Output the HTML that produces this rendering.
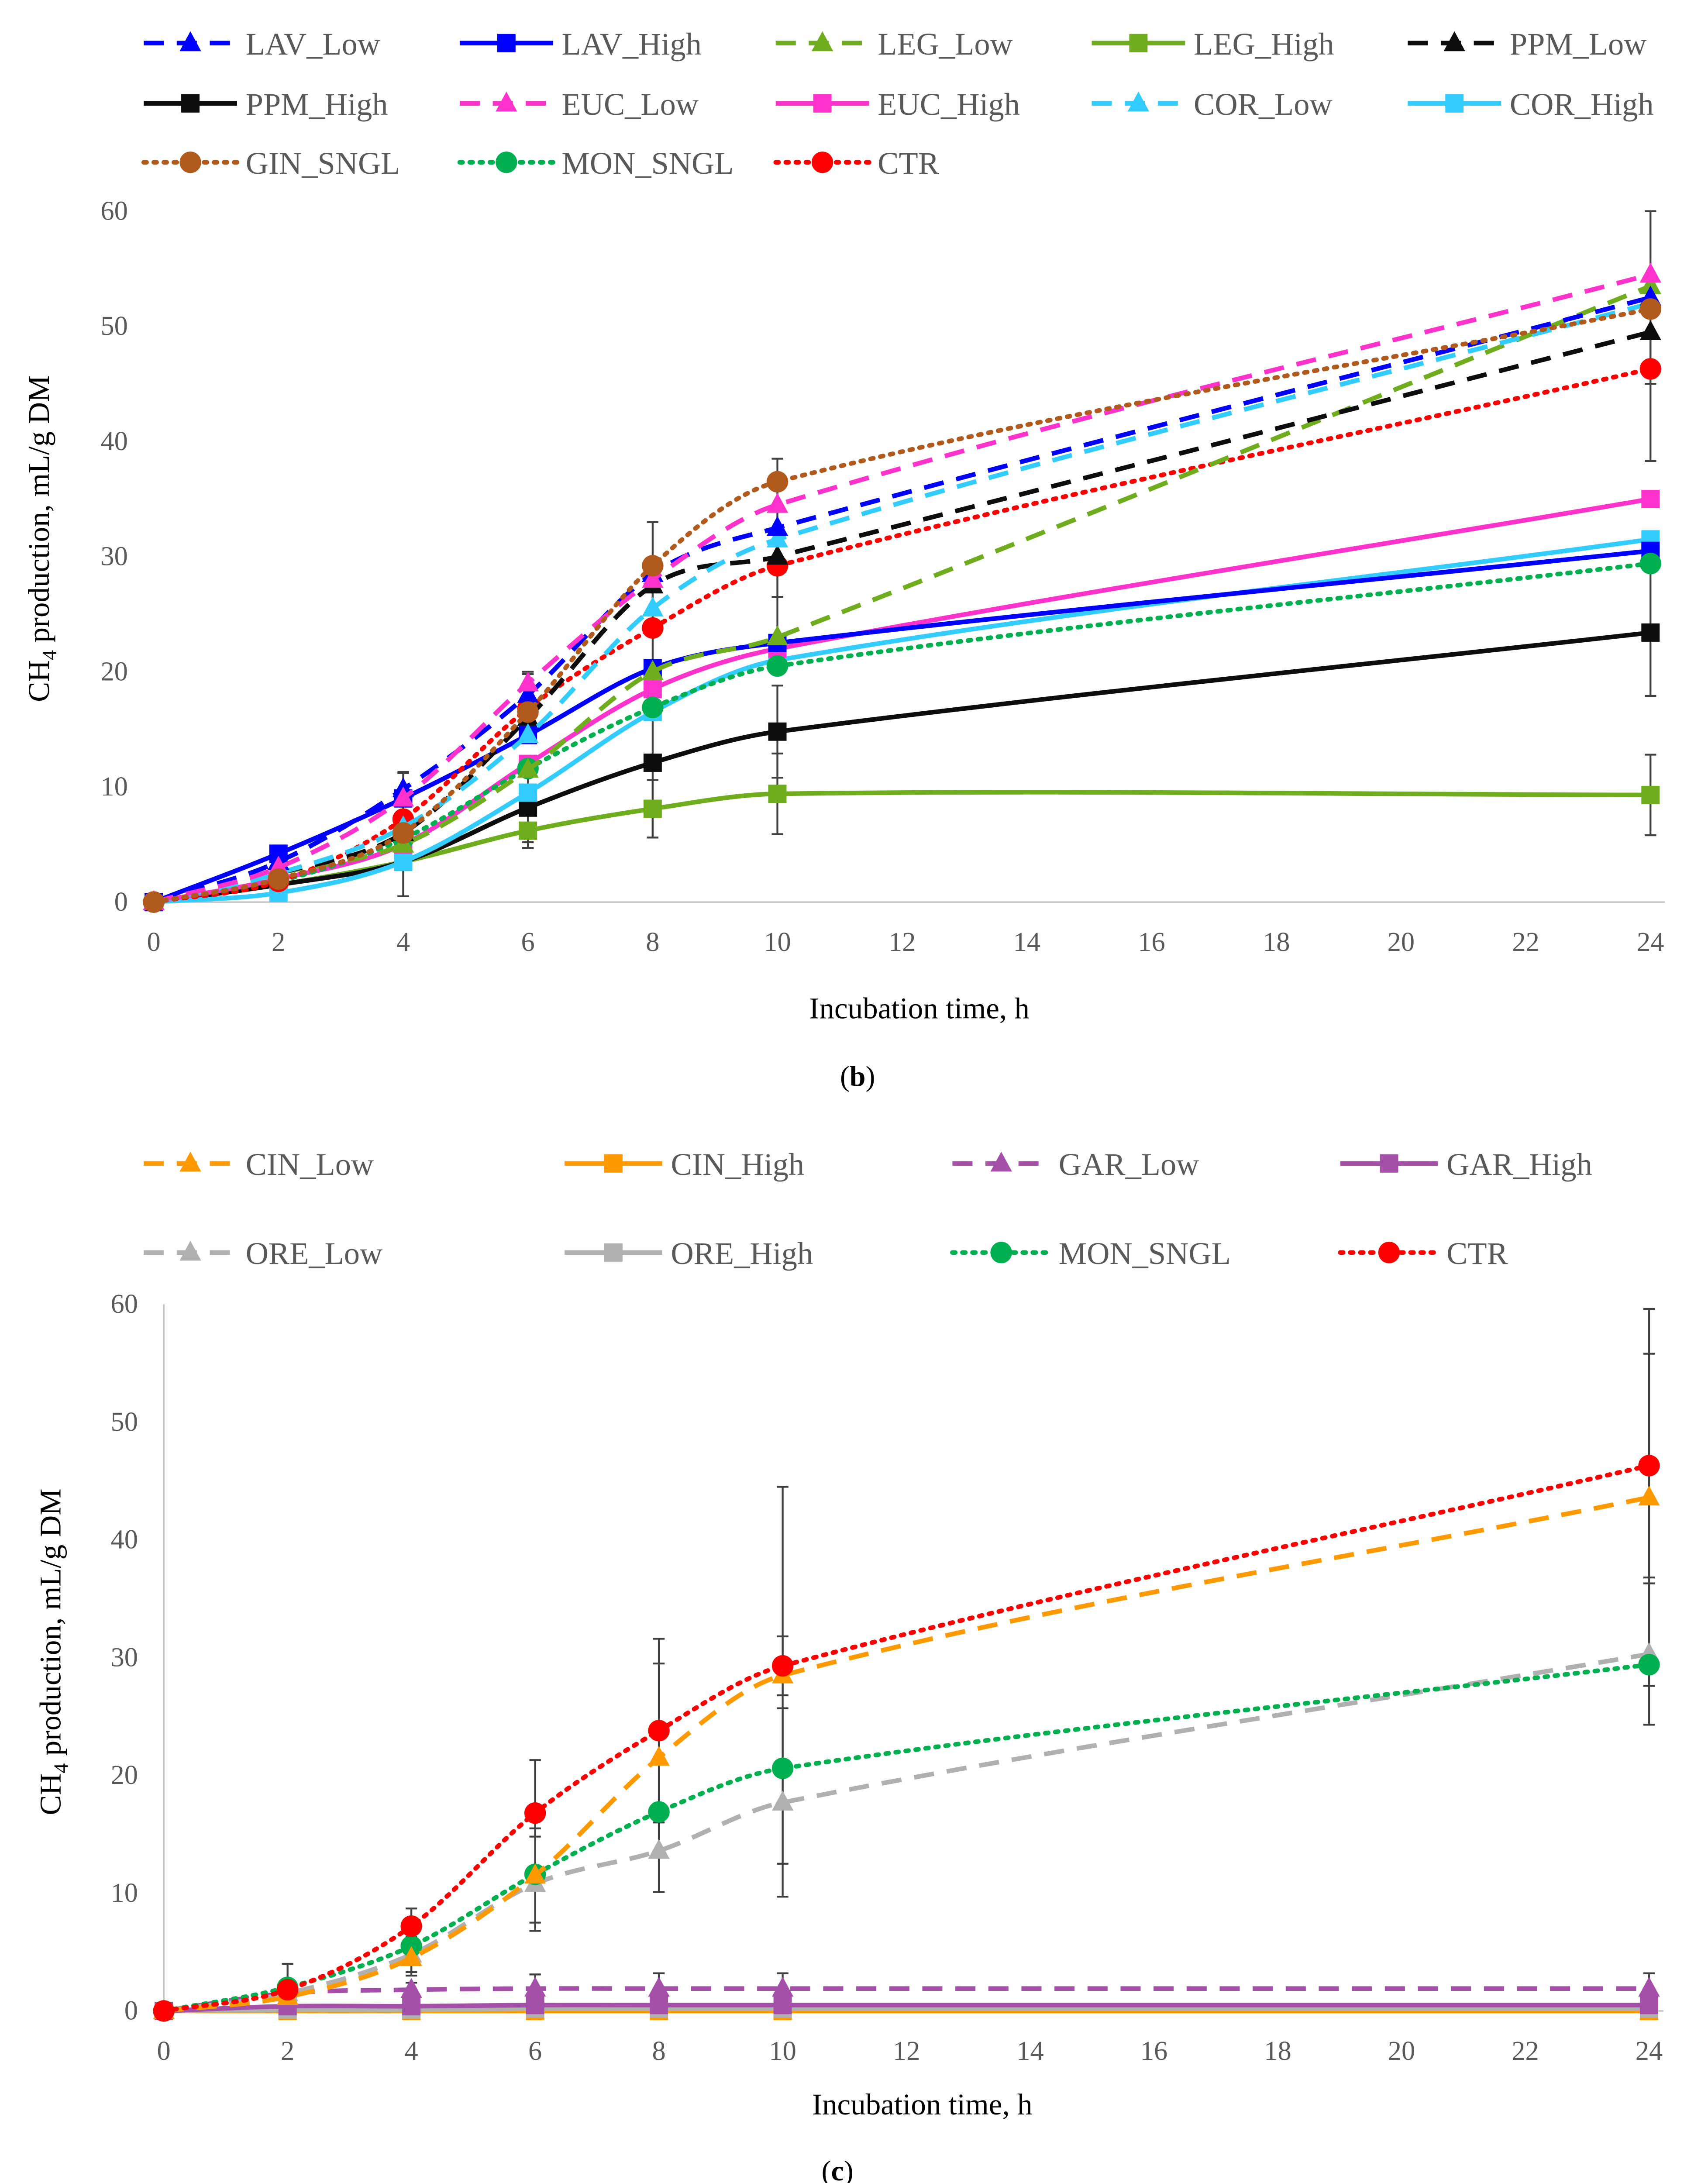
<!DOCTYPE html>
<html><head><meta charset="utf-8">
<style>
html,body{margin:0;padding:0;background:#fff;width:3912px;height:5157px;overflow:hidden;}
svg{display:block;position:absolute;left:0;top:0;font-family:"Liberation Serif",serif;}
</style></head>
<body>
<svg id="root" width="3912" height="5157" viewBox="0 0 1189 1567.5" xmlns="http://www.w3.org/2000/svg">
<rect x="0" y="0" width="1189" height="1568" fill="#fff"/>
</svg>
<script>
// ---------- data: panel (b) ----------
const hours = [0, 2, 4, 6, 8, 10, 24];
const xTicks = [0, 2, 4, 6, 8, 10, 12, 14, 16, 18, 20, 22, 24];
const yTicks = [0, 10, 20, 30, 40, 50, 60];

const lavLow  = [0, 3.5, 9.8, 18, 28.5, 32.5, 52.5];
const lavHigh = [0, 4.2, 9, 14.5, 20.3, 22.5, 30.5];
const legLow  = [0, 2.5, 5, 11.5, 20, 23, 53.5];
const legHigh = [0, 1.5, 3.5, 6.2, 8.1, 9.4, 9.3];
const ppmLow  = [0, 2.5, 6, 16, 27.5, 30, 49.5];
const ppmHigh = [0, 1.5, 3.5, 8.2, 12.1, 14.8, 23.4];
const eucLow  = [0, 3, 9, 19, 28, 34.5, 54.5];
const eucHigh = [0, 2, 5, 12, 18.5, 22, 35];
const corLow  = [0, 2.5, 6.5, 14.5, 25.5, 31.5, 52];
const corHigh = [0, 0.8, 3.5, 9.5, 16.5, 21, 31.5];
const ginSngl = [0, 2, 6, 16.5, 29.2, 36.5, 51.5];
const monSngl = [0, 1.8, 5.5, 11.6, 16.9, 20.5, 29.4];
const ctr     = [0, 1.8, 7.2, 16.8, 23.8, 29.2, 46.3];

const errB_lavLow = [0, 1, 1.5, 2, 4.5, 6, 7.5];
const errB_ppmHigh = [0, 0.5, 3, 3, 6.5, 4, 5.5];
const errB_legHigh = [0, 0.5, 3, 1.5, 2.5, 3.5, 3.5];
const errB_ctr = [0, 0.5, 4, 3, 5, 7, 8];

// ---------- data: panel (c) ----------
const cinLow  = [0, 1.2, 4.5, 11.5, 21.5, 28.5, 43.6];
const cinHigh = [0, 0, 0, 0, 0, 0, 0];
const garLow  = [0, 1.5, 1.8, 1.9, 1.9, 1.9, 1.9];
const garHigh = [0, 0.4, 0.4, 0.5, 0.5, 0.5, 0.5];
const oreLow  = [0, 1.5, 4.8, 10.8, 13.6, 17.7, 30.3];
const oreHigh = [0, 0.1, 0.1, 0.2, 0.2, 0.2, 0.2];
const monC    = [0, 2, 5.5, 11.6, 16.9, 20.6, 29.4];
const ctrC    = [0, 1.8, 7.2, 16.8, 23.8, 29.3, 46.3];

const errC_cinLow = [0, 1, 1.5, 4, 8, 16, 16];
const errC_ctr = [0, 2.2, 1.5, 4.5, 7.8, 2.5, 9.5];
const errC_ore = [0, 0.5, 1.5, 4, 3.5, 8, 6];
const errC_gar = [0, 0.4, 0.6, 1.2, 1.3, 1.3, 1.3];

const NS = "http://www.w3.org/2000/svg";
const root = document.getElementById('root');
function mk(tag, attrs, parent) {
  const e = document.createElementNS(NS, tag);
  for (const k in attrs) e.setAttribute(k, attrs[k]);
  (parent || root).appendChild(e);
  return e;
}
const GRAY = "#595959";
const COL = {blue:"#0000ff", green:"#70ad1e", black:"#0d0d0d", pink:"#ff33cc", cyan:"#33ccff",
  brown:"#b05a1e", mgreen:"#00b050", red:"#ff0000", orange:"#ff9900", purple:"#a550a8", grey:"#b0b0b0"};

function smoothPath(pts) {
  const n = pts.length;
  const m = pts.map((p, i) => {
    const a = pts[Math.max(0, i - 1)], b = pts[Math.min(n - 1, i + 1)];
    return (b[1] - a[1]) / (b[0] - a[0]);
  });
  let d = "M" + pts[0][0] + "," + pts[0][1];
  for (let i = 0; i < n - 1; i++) {
    const p1 = pts[i], p2 = pts[i + 1], h = (p2[0] - p1[0]) / 3;
    d += " C" + (p1[0] + h) + "," + (p1[1] + m[i] * h) + " " + (p2[0] - h) + "," + (p2[1] - m[i + 1] * h) + " " + p2[0] + "," + p2[1];
  }
  return d;
}
function dashFor(style) {
  return style === 'low' ? "14,9" : style === 'sngl' ? "2,5" : "none";
}
function marker(g, type, x, y, color, r) {
  let m;
  if (type === 'tri') m = mk('polygon', {points: `${x},${y - r * 1.1} ${x - r},${y + r * 0.75} ${x + r},${y + r * 0.75}`, fill: color}, g);
  else if (type === 'sq') m = mk('rect', {x: x - r * 0.85, y: y - r * 0.85, width: r * 1.7, height: r * 1.7, fill: color}, g);
  else m = mk('circle', {cx: x, cy: y, r: r, fill: color}, g);
  return m;
}

function drawChart(cfg) {
  const g = mk('g', {});
  
  
  const xs = v => cfg.x0 + (v / 24) * (cfg.x1 - cfg.x0);
  const ys = v => cfg.y0 - (v / 60) * (cfg.y0 - cfg.y1);
  const xa = mk('line', {x1: cfg.axisLeft, y1: cfg.y0, x2: cfg.x1 + 10, y2: cfg.y0, stroke: "#bfbfbf", "stroke-width": 1}, g);
  
  
  if (cfg.yAxisLine) {
    const ya = mk('line', {x1: cfg.x0, y1: cfg.y0, x2: cfg.x0, y2: cfg.y1, stroke: "#bfbfbf", "stroke-width": 1}, g);
    
    
  }
  xTicks.forEach(t => {
    const tx = mk('text', {x: xs(t), y: cfg.y0 + 34, "text-anchor": "middle", "font-size": 19, fill: GRAY}, g);
    tx.textContent = t;
    
    
  });
  yTicks.forEach(t => {
    const ty = mk('text', {x: cfg.x0 - 18, y: ys(t) + 6, "text-anchor": "end", "font-size": 19, fill: GRAY}, g);
    ty.textContent = t;
    
    
  });
  const xt = mk('text', {x: cfg.xTitleX, y: cfg.xTitleY, "text-anchor": "middle", "font-size": 21, fill: "#000"}, g);
  xt.textContent = "Incubation time, h";
  
  
  const yt = mk('text', {x: 0, y: 0, "text-anchor": "middle", "font-size": 21, fill: "#000", transform: `translate(${cfg.yTitleX},${cfg.yTitleY}) rotate(-90)`}, g);
  yt.innerHTML = 'CH<tspan font-size="14" dy="5">4</tspan><tspan dy="-5"> production, mL/g DM</tspan>';
  
  

  cfg.errors.forEach(e => {
    hours.forEach((h, i) => {
      if (!e.err[i]) return;
      const x = xs(h), ya = ys(e.vals[i] - e.err[i]), yb = ys(Math.min(60, e.vals[i] + e.err[i]));
      const eb = mk('path', {d: `M${x},${ya}V${yb}M${x - 4},${ya}H${x + 4}M${x - 4},${yb}H${x + 4}`, stroke: "#404040", "stroke-width": 1.3, fill: "none"}, g);
      
      
    });
  });
  cfg.series.forEach(s => {
    const sg = mk('g', {}, g);
    
    
    const pts = hours.map((h, i) => [xs(h), ys(s.vals[i])]);
    mk('path', {d: smoothPath(pts), fill: "none", stroke: s.color, "stroke-width": 3.2, "stroke-dasharray": dashFor(s.style), "stroke-linecap": s.style === 'sngl' ? "round" : "butt"}, sg);
    const mt = s.style === 'low' ? 'tri' : s.style === 'high' ? 'sq' : 'circ';
    pts.forEach(p => {
      const m = marker(sg, mt, p[0], p[1], s.color, 7.5);
      
      
    });
  });
  cfg.legend.forEach(l => {
    const s = l.s;
    const lg = mk('g', {}, g);
    
    
    mk('line', {x1: l.x, y1: l.y, x2: l.x + l.w, y2: l.y, stroke: s.color, "stroke-width": 3.2, "stroke-dasharray": dashFor(s.style), "stroke-linecap": s.style === 'sngl' ? "round" : "butt"}, lg);
    const mt = s.style === 'low' ? 'tri' : s.style === 'high' ? 'sq' : 'circ';
    marker(lg, mt, l.x + l.w / 2, l.y, s.color, 7.5);
    const t = mk('text', {x: l.x + l.w + 6, y: l.y + 8, "font-size": 22, fill: GRAY}, lg);
    t.textContent = s.label;
  });
}

const sLavLow = {label: "LAV_Low", vals: lavLow, color: COL.blue, style: 'low'};
const sLavHigh = {label: "LAV_High", vals: lavHigh, color: COL.blue, style: 'high'};
const sLegLow = {label: "LEG_Low", vals: legLow, color: COL.green, style: 'low'};
const sLegHigh = {label: "LEG_High", vals: legHigh, color: COL.green, style: 'high'};
const sPpmLow = {label: "PPM_Low", vals: ppmLow, color: COL.black, style: 'low'};
const sPpmHigh = {label: "PPM_High", vals: ppmHigh, color: COL.black, style: 'high'};
const sEucLow = {label: "EUC_Low", vals: eucLow, color: COL.pink, style: 'low'};
const sEucHigh = {label: "EUC_High", vals: eucHigh, color: COL.pink, style: 'high'};
const sCorLow = {label: "COR_Low", vals: corLow, color: COL.cyan, style: 'low'};
const sCorHigh = {label: "COR_High", vals: corHigh, color: COL.cyan, style: 'high'};
const sGin = {label: "GIN_SNGL", vals: ginSngl, color: COL.brown, style: 'sngl'};
const sMon = {label: "MON_SNGL", vals: monSngl, color: COL.mgreen, style: 'sngl'};
const sCtr = {label: "CTR", vals: ctr, color: COL.red, style: 'sngl'};

const bx = [100, 320, 540, 760, 980];
drawChart({
  name: 'chart-b', x0: 107, x1: 1149, y0: 628, y1: 147, axisLeft: 100, yAxisLine: false,
  xTitleX: 640, xTitleY: 709, yTitleX: 34, yTitleY: 375,
  errors: [{vals: lavLow, err: errB_lavLow}, {vals: ppmHigh, err: errB_ppmHigh}, {vals: legHigh, err: errB_legHigh}, {vals: ctr, err: errB_ctr}],
  series: [sLegHigh, sPpmHigh, sCorHigh, sEucHigh, sLavHigh, sMon, sCtr, sLegLow, sPpmLow, sCorLow, sLavLow, sEucLow, sGin],
  legend: [
    {s: sLavLow, x: bx[0], y: 30, w: 65}, {s: sLavHigh, x: bx[1], y: 30, w: 65}, {s: sLegLow, x: bx[2], y: 30, w: 65}, {s: sLegHigh, x: bx[3], y: 30, w: 65}, {s: sPpmLow, x: bx[4], y: 30, w: 65},
    {s: sPpmHigh, x: bx[0], y: 72, w: 65}, {s: sEucLow, x: bx[1], y: 72, w: 65}, {s: sEucHigh, x: bx[2], y: 72, w: 65}, {s: sCorLow, x: bx[3], y: 72, w: 65}, {s: sCorHigh, x: bx[4], y: 72, w: 65},
    {s: sGin, x: bx[0], y: 113, w: 65}, {s: sMon, x: bx[1], y: 113, w: 65}, {s: sCtr, x: bx[2], y: 113, w: 65}
  ]
});

const sCinLow = {label: "CIN_Low", vals: cinLow, color: COL.orange, style: 'low'};
const sCinHigh = {label: "CIN_High", vals: cinHigh, color: COL.orange, style: 'high'};
const sGarLow = {label: "GAR_Low", vals: garLow, color: COL.purple, style: 'low'};
const sGarHigh = {label: "GAR_High", vals: garHigh, color: COL.purple, style: 'high'};
const sOreLow = {label: "ORE_Low", vals: oreLow, color: COL.grey, style: 'low'};
const sOreHigh = {label: "ORE_High", vals: oreHigh, color: COL.grey, style: 'high'};
const sMonC = {label: "MON_SNGL", vals: monC, color: COL.mgreen, style: 'sngl'};
const sCtrC = {label: "CTR", vals: ctrC, color: COL.red, style: 'sngl'};
const cx = [100, 393, 663, 933];
drawChart({
  name: 'chart-c', x0: 114, x1: 1148, y0: 1400, y1: 908, axisLeft: 114, yAxisLine: true,
  xTitleX: 642, xTitleY: 1472, yTitleX: 42, yTitleY: 1150,
  errors: [{vals: cinLow, err: errC_cinLow}, {vals: ctrC, err: errC_ctr}, {vals: oreLow, err: errC_ore}, {vals: garLow, err: errC_gar}],
  series: [sCinHigh, sOreHigh, sGarHigh, sGarLow, sOreLow, sMonC, sCinLow, sCtrC],
  legend: [
    {s: sCinLow, x: cx[0], y: 810, w: 65}, {s: sCinHigh, x: cx[1], y: 810, w: 68}, {s: sGarLow, x: cx[2], y: 810, w: 68}, {s: sGarHigh, x: cx[3], y: 810, w: 68},
    {s: sOreLow, x: cx[0], y: 872, w: 65}, {s: sOreHigh, x: cx[1], y: 872, w: 68}, {s: sMonC, x: cx[2], y: 872, w: 68}, {s: sCtrC, x: cx[3], y: 872, w: 68}
  ]
});

[['(b)', 597, 756, 'panel-label-b'], ['(c)', 583, 1518, 'panel-label-c']].forEach(p => {
  const t = mk('text', {x: p[1], y: p[2], "text-anchor": "middle", "font-size": 20, fill: "#000"});
  t.innerHTML = '(<tspan font-weight="bold">' + p[0][1] + '</tspan>)';
  
  
});
[['----▲----', 30, 'Low Dose', 178, 'dose-key-low'], ['———■———', 445, 'High Dose', 625, 'dose-key-high'], ['·····●·····', 898, 'Single Dose', 1020, 'dose-key-single']].forEach(k => {
  const g = mk('g', {});
  
  
  const a = mk('text', {x: k[1], y: 1550, "font-size": 18, fill: "#000", "font-family": "Liberation Sans, DejaVu Sans, sans-serif"}, g);
  a.textContent = k[0];
  const b = mk('text', {x: k[3], y: 1550, "font-size": 25, fill: "#000"}, g);
  b.textContent = k[2];
});
</script>
</body></html>
